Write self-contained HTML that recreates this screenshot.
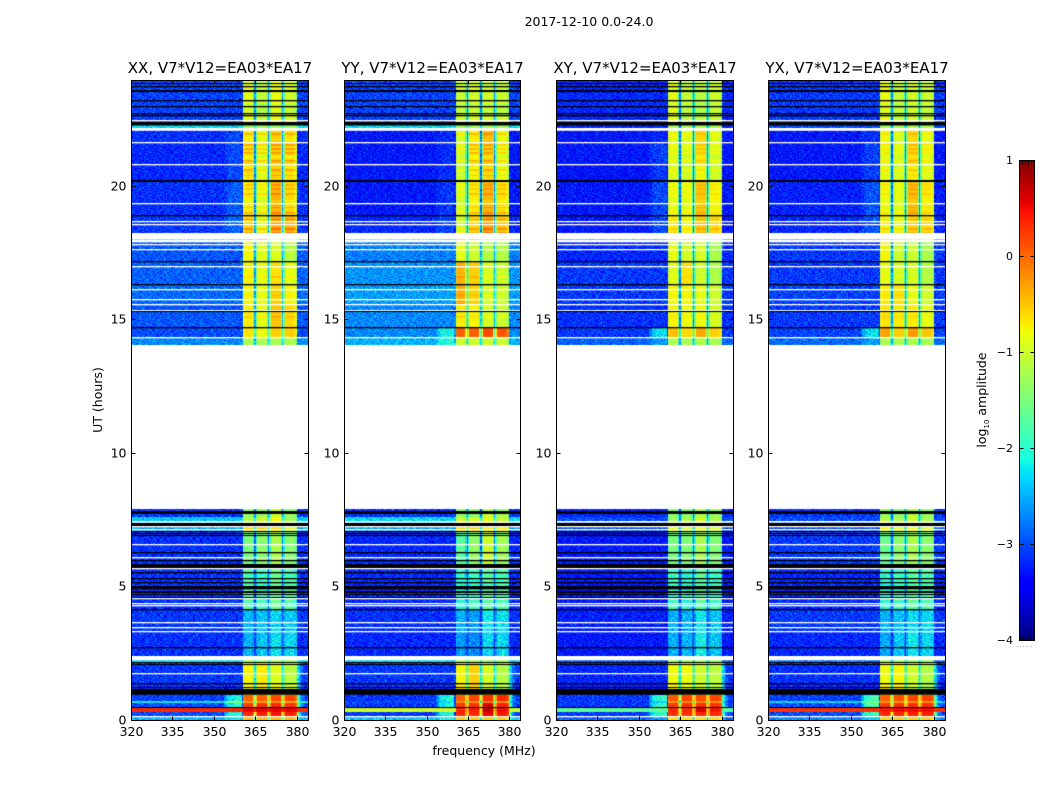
<!DOCTYPE html>
<html lang="en">
<head>
<meta charset="utf-8">
<title>2017-12-10 0.0-24.0</title>
<style>
html,body{margin:0;padding:0;background:#fff;}
#figure{position:relative;width:1050px;height:800px;overflow:hidden;background:#fff;font-family:"DejaVu Sans","Liberation Sans",sans-serif;}
canvas{position:absolute;display:block;}
#overlay{position:absolute;left:0;top:0;}
text{font-family:"DejaVu Sans","Liberation Sans",sans-serif;fill:#000;}
</style>
</head>
<body>
<div id="figure">
<canvas id="heat-xx"></canvas>
<canvas id="heat-yy"></canvas>
<canvas id="heat-xy"></canvas>
<canvas id="heat-yx"></canvas>
<canvas id="colorbar"></canvas>
<svg id="overlay" width="1050" height="800" xmlns="http://www.w3.org/2000/svg">
<text x="589" y="26" font-size="12.5" text-anchor="middle">2017-12-10 0.0-24.0</text>
<text x="484" y="755" font-size="12.5" text-anchor="middle">frequency (MHz)</text>
<text transform="translate(102,400) rotate(-90)" font-size="12.5" text-anchor="middle">UT (hours)</text>
<text transform="translate(986,400) rotate(-90)" font-size="12.5" text-anchor="middle">log<tspan font-size="7" dy="3">10</tspan><tspan dy="-3"> amplitude</tspan></text>
<text x="1017" y="647" font-size="5" fill="#666" letter-spacing="1.2">......</text>
</svg>
</div>
<script>
/* ---------- chart data (log10 amplitude) ---------- */
const panelNames = ["XX", "YY", "XY", "YX"];
const panelTitles = ["XX, V7*V12=EA03*EA17", "YY, V7*V12=EA03*EA17", "XY, V7*V12=EA03*EA17", "YX, V7*V12=EA03*EA17"];
const xTickValues = [320, 335, 350, 365, 380];
const yTickValues = [0, 5, 10, 15, 20];
const colorTickValues = [1, 0, -1, -2, -3, -4];

/* time segments in UT hours */
const segStart = [22.40,22.16,21.63,20.80,20.19,18.90,18.02,17.94,17.17,16.32,15.56,14.70,14.31,14.04,7.58,7.45,7.07,5.66,4.10,3.31,2.30,2.16,1.34,0.92,0.69,0.62,0.43,0.28,0.10,0.00];
const segEnd   = [24.00,22.40,22.16,21.63,20.80,20.19,18.90,18.02,17.94,17.17,16.32,15.56,14.70,14.31,7.89,7.58,7.45,7.07,5.66,4.10,3.31,2.30,2.16,1.34,0.92,0.69,0.62,0.43,0.28,0.10];

/* background level outside the receiver passband, per segment */
const xxBackground = [-3.05,-2.3,-3.15,-3.2,-3.2,-3.15,-3.1,-2.4,-2.95,-2.9,-2.85,-2.95,-3.0,-2.7,-3.1,-2.4,-2.6,-3.15,-3.15,-3.1,-3.15,-2.3,-3.1,-3.15,-3.05,-2.2,-3.0,0.35,-3.0,-2.5];
const yyBackground = [-3.05,-2.3,-3.3,-3.3,-3.3,-3.3,-3.2,-2.4,-2.75,-2.65,-2.6,-2.7,-2.7,-2.5,-3.1,-2.3,-2.6,-3.2,-3.2,-3.15,-3.2,-2.3,-3.1,-3.15,-3.1,-3.0,-3.1,-1.0,-3.1,-2.4];
const xyBackground = [-3.2,-3.2,-3.3,-3.3,-3.35,-3.3,-3.3,-2.9,-3.2,-3.1,-3.1,-3.15,-3.1,-2.9,-3.2,-3.0,-3.0,-3.3,-3.3,-3.25,-3.3,-2.9,-3.2,-3.25,-3.1,-3.1,-3.1,-1.7,-3.1,-2.9];
const yxBackground = [-3.1,-3.0,-3.3,-3.3,-3.3,-3.25,-3.2,-2.8,-3.1,-3.1,-3.05,-3.1,-3.05,-2.85,-3.1,-3.0,-3.0,-3.1,-3.2,-3.1,-3.2,-2.8,-3.15,-3.2,-3.05,-2.3,-3.0,0.3,-3.0,-2.7];

/* low-side shoulder strength (dex) next to the passband, per segment */
const xxShoulder = [0,0,.15,.2,.2,.25,.25,0,0,0,0,0,0,0,0,0,0,0,0,0,0,0,0,0,1.0,.8,1.0,0,1.0,.3];
const yyShoulder = [0,0,.1,.15,.15,.2,.15,0,0,0,0,0,.6,.5,0,0,0,0,0,0,0,0,0,0,1.1,.8,1.1,0,1.1,.3];
const xyShoulder = [0,0,.1,.25,.25,.3,.3,0,0,0,0,0,.9,.3,0,0,0,0,0,0,0,0,0,0,1.2,.8,1.2,0,1.2,.3];
const yxShoulder = [0,0,.15,.25,.25,.3,.25,0,0,0,0,0,.85,.3,0,0,0,0,0,0,0,0,0,0,1.3,.8,1.3,0,1.2,.3];
/* high-side shoulder strength (dex) above 380 MHz, per segment */
const upperShoulder = [0,0,0,0,0,0,0,0,0,0,0,0,0,0,0,0,0,0,0,0,0,0,.9,.9,1.4,.8,1.4,0,1.4,.3];
/* lowest level the narrow channel gaps fall to, per segment */
const gapFloor = [-9,-9,-9,-9,-9,-9,-9,-9,-9,-9,-9,-9,-2.3,-9,-9,-9,-9,-9,-9,-9,-9,-9,-2.5,-2.5,-1.5,-9,-1.5,-1.5,-1.5,-9];

/* level in each of the four 5 MHz sub-bands, per segment */
const xxSubbands = [[-.85,-1.05,-.8,-.95],[-1.3,-1.3,-1.3,-1.3],[-.7,-.85,-.55,-.65],[-.65,-.85,-.55,-.6],[-.65,-.9,-.55,-.65],[-.7,-.85,-.4,-.6],[-.55,-.85,-.35,-.4],[-.2,-.2,-.8,-.8],[-.75,-.9,-.9,-1.1],[-.75,-.85,-.65,-.85],[-.75,-.85,-.55,-.75],[-.7,-.85,-.5,-.6],[-.65,-.8,-.55,-.55],[-1.2,-1.2,-1.2,-1.2],[-1.3,-1.3,-1.0,-1.3],[-1.2,-1.0,-.8,-1.3],[-.55,-.5,-.55,-.9],[-1.5,-1.4,-1.2,-1.4],[-1.8,-1.9,-1.6,-1.8],[-2.45,-2.4,-2.3,-2.35],[-2.5,-2.4,-2.25,-2.3],[-1.3,-1.3,-1.3,-1.3],[-.75,-.7,-.9,-1.1],[-.75,-.7,-.8,-1.0],[.05,.05,.15,.2],[-.3,-.3,-.2,-.3],[.25,.3,.35,.3],[.55,.55,.55,.55],[.35,.4,.45,.4],[-.4,-.4,-.4,-.4]];
const yySubbands = [[-1.0,-.95,-.95,-1.0],[-1.3,-1.3,-1.3,-1.3],[-.95,-.7,-.45,-.8],[-1.0,-.7,-.55,-.85],[-1.05,-.75,-.6,-.85],[-.95,-.7,-.4,-.65],[-1.0,-.6,-.3,-.5],[-.3,-.3,-.7,-.7],[-.85,-1.0,-1.15,-1.15],[-.4,-.55,-.95,-1.0],[-.35,-.55,-.95,-1.0],[-.7,-.75,-.95,-1.0],[.05,.05,.15,.1],[-1.0,-1.0,-1.0,-1.0],[-1.3,-1.4,-1.0,-1.2],[-1.0,-.95,-.85,-1.05],[-.6,-.55,-.7,-.7],[-1.7,-1.35,-1.0,-1.25],[-2.0,-1.9,-1.7,-1.8],[-2.5,-2.6,-2.2,-2.25],[-2.6,-2.7,-2.3,-2.3],[-1.3,-1.3,-1.3,-1.3],[-.75,-.55,-.95,-1.15],[-.65,-.55,-.9,-1.1],[.05,.2,.3,.35],[-.2,-.2,-.1,-.2],[.25,.3,.6,.4],[.35,.4,.7,.5],[.35,.35,.55,.45],[-.5,-.5,-.5,-.5]];
const xySubbands = [[-.85,-1.05,-1.1,-1.0],[-1.2,-1.2,-1.2,-1.2],[-.85,-.9,-.6,-.9],[-.9,-.95,-.65,-.95],[-.9,-1.0,-.8,-1.0],[-.85,-.85,-.5,-.75],[-.7,-.8,-.5,-.6],[-.4,-.4,-.8,-.9],[-.85,-.95,-.95,-1.2],[-.9,-.65,-1.0,-1.2],[-.75,-.75,-.85,-1.0],[-.75,-.8,-.8,-.95],[-.45,-.6,-.35,-.55],[-1.2,-1.2,-1.2,-1.2],[-1.4,-1.4,-1.1,-1.3],[-1.3,-1.2,-1.0,-1.2],[-.85,-1.0,-.85,-.95],[-1.5,-1.45,-1.2,-1.45],[-1.9,-2.0,-1.7,-1.9],[-2.5,-2.5,-2.2,-2.4],[-2.5,-2.5,-2.15,-2.4],[-1.3,-1.3,-1.3,-1.3],[-.8,-.8,-1.0,-1.1],[-.7,-.8,-.95,-1.1],[.1,.2,.15,.2],[-.2,-.2,-.2,-.2],[.25,.3,.3,.3],[.35,.35,.6,.45],[.3,.3,.35,.35],[-.6,-.6,-.6,-.6]];
const yxSubbands = [[-.8,-1.05,-.95,-1.0],[-1.2,-1.2,-1.2,-1.2],[-.8,-.95,-.6,-.85],[-.85,-.95,-.6,-.85],[-.85,-.95,-.7,-.9],[-.8,-.9,-.45,-.7],[-.75,-.85,-.55,-.6],[-.5,-.5,-.8,-.9],[-.75,-1.0,-1.0,-1.2],[-.85,-.95,-.95,-1.15],[-.7,-.65,-.85,-1.0],[-.65,-.7,-.7,-.85],[-.3,-.55,-.25,-.5],[-1.2,-1.2,-1.2,-1.2],[-1.3,-1.4,-1.1,-1.3],[-1.1,-1.2,-1.0,-1.2],[-.8,-.9,-.8,-.9],[-1.6,-1.4,-1.2,-1.4],[-2.0,-1.9,-1.7,-1.8],[-2.5,-2.4,-2.25,-2.3],[-2.55,-2.4,-2.2,-2.3],[-1.3,-1.3,-1.3,-1.3],[-.8,-.75,-1.0,-1.15],[-.7,-.7,-1.0,-1.15],[.05,.15,.2,.2],[-.2,-.2,-.2,-.2],[.25,.3,.3,.3],[.45,.5,.5,.5],[.35,.35,.4,.4],[-.5,-.5,-.5,-.5]];

/* passband response per 0.5 MHz channel, 320 to 384 MHz */
const passband = [
0,0,0,0,0,0,0,0,0,0,0,0,0,0,0,0,0,0,0,0,0,0,0,0,0,0,0,0,0,0,0,0,0,0,0,0,0,0,0,0,
0,0,0,0,0,0,0,0,0,0,0,0,0,0,0,0,0,0,0,0,0,0,0,0,0,0,0,0,0,0,0,0,0,0,0,0,0,0,0,0,0,
0,.95,1,1,1,1,1,1,.65,.2,.65,1,1,1,1,1,1,1,.65,.2,.65,1,1,1,1,1,1,1,.65,.2,.65,1,1,1,1,1,1,1,.95,.85,
0,0,0,0,0,0,0,0];
const shoulderShape = [
0,0,0,0,0,0,0,0,0,0,0,0,0,0,0,0,0,0,0,0,0,0,0,0,0,0,0,0,0,0,0,0,0,0,0,0,0,0,0,0,
0,0,0,0,0,0,0,0,0,0,0,0,0,0,0,0,0,0,0,0,
0,0,0,0,0,0,0,0,.3,.5,.7,.8,.85,.9,.9,.9,.95,.95,1,1,1,
0,0,0,0,0,0,0,0,0,0,0,0,0,0,0,0,0,0,0,0,0,0,0,0,0,0,0,0,0,0,0,0,0,0,0,0,0,0,0,0,
0,0,0,0,0,0,0,0];
const upperShape = [
0,0,0,0,0,0,0,0,0,0,0,0,0,0,0,0,0,0,0,0,0,0,0,0,0,0,0,0,0,0,0,0,0,0,0,0,0,0,0,0,
0,0,0,0,0,0,0,0,0,0,0,0,0,0,0,0,0,0,0,0,0,0,0,0,0,0,0,0,0,0,0,0,0,0,0,0,0,0,0,0,0,
0,0,0,0,0,0,0,0,0,0,0,0,0,0,0,0,0,0,0,0,0,0,0,0,0,0,0,0,0,0,0,0,0,0,0,0,0,0,0,0,
1,.7,.4,.2,.1,.05,0,0];
const subbandEdges = [365, 370, 375];

/* brighter or dimmer spectral rows inside the passband */
const stripeHours = [23.4,23.05,22.85,21.95,21.75,21.55,21.4,21.25,21.1,20.95,20.7,20.6,20.4,20.05,19.9,19.7,19.45,19.2,19.0,18.75,18.4,18.25,17.0,16.6,15.9,15.1];
const stripeGains = [-.2,-.2,-.2,.3,-.1,.3,.3,.3,-.15,.3,-.1,.3,.25,.2,.2,.25,-.15,.2,.3,.35,.35,.3,.15,.15,.15,.15];
const stripeStrength = [1, .9, .5, .6];

/* flagged rows across all panels: centre hour, thickness in hours, kind */
const flagHours = [23.84,23.73,23.59,23.53,23.19,22.98,22.73,22.65,22.46,22.35,22.11,21.63,20.80,20.19,19.34,18.90,18.67,18.56,18.12,17.92,17.79,17.62,17.17,16.99,16.32,16.12,15.75,15.56,15.34,15.28,14.70,14.31,7.76,7.41,7.31,7.23,7.12,7.03,6.96,6.90,6.57,6.27,6.08,5.94,5.75,5.66,5.50,5.29,5.13,4.94,4.79,4.67,4.57,4.53,4.34,4.28,4.10,3.64,3.44,3.31,2.68,2.30,2.12,2.06,1.73,1.34,1.18,1.03,0.46,0.10];
const flagWidths = [.04,.05,.04,.04,.05,.05,.05,.05,.05,.13,.105,.05,.05,.075,.05,.05,.05,.05,.245,.09,.05,.05,.05,.05,.05,.05,.05,.05,.05,.04,.05,.05,.11,.065,.125,.05,.05,.04,.04,.04,.05,.05,.05,.05,.15,.05,.05,.05,.05,.125,.075,.04,.04,.05,.05,.05,.05,.05,.05,.05,.05,.16,.04,.04,.05,.05,.04,.215,.04,.05];
const flagKinds = "kkkkkkkkwkwwwkwkwwwwwwkwkwwwwkkwkwkwwkkkwkwkkwkkkkkkkwwwkwwwkwkkwkkkkw";

/* hand-typed texture approximating the noisy background; not measured from the picture */
const speckleTile = [
"3718264905172638490527163849201",
"8240596137482950163748205916374",
"1596372840619375208461937025846",
"6027481953720486139572084613952",
"4381905276138409527316840295731",
"9152764038295617340892561704382",
"2670813945062738415906273184590",
"7394026581947302681549307268415",
"0861537294615820937462518093746",
"5243980617358146209783640521879",
"1709264853012947568302917465083",
"8536172490786315042968153027694",
"3092845716240968351740286935170",
"6471390528917350264185093762841",
"2958607143586291730426815094367",
"7120439865031758942603174958206",
"4685921037469102587349260815739",
"0317758246193864025871496302518",
"9546102873520417396058742169340"
];

/* ---------- layout ---------- */
const panelLeft = [131, 344, 556, 768];
const panelRight = [308, 520, 733, 945];
const plotTop = 80;
const plotBottom = 720;
const zeroRow = 719.5;
const pixelsPerHour = 26.67;
const freqMin = 320;
const freqMax = 384;
const channelStep = 0.5;
const backgrounds = [xxBackground, yyBackground, xyBackground, yxBackground];
const shoulders = [xxShoulder, yyShoulder, xyShoulder, yxShoulder];
const subbands = [xxSubbands, yySubbands, xySubbands, yxSubbands];
const SVGNS = "http://www.w3.org/2000/svg";

function xScale(freq, panel) {
  return panelLeft[panel] + (freq - freqMin) / (freqMax - freqMin) * (panelRight[panel] - panelLeft[panel]);
}
function yScale(hour) {
  return zeroRow - hour * pixelsPerHour;
}
function hourAt(row) {
  return (zeroRow - row) / pixelsPerHour;
}
function ramp(x, pts) {
  for (let i = 1; i < pts.length; i++) {
    if (x <= pts[i][0]) {
      const a = pts[i - 1], b = pts[i];
      return a[1] + (b[1] - a[1]) * (x - a[0]) / (b[0] - a[0]);
    }
  }
  return pts[pts.length - 1][1];
}
function jet(value) {
  const t = Math.max(0, Math.min(1, (value + 4) / 5));
  const r = ramp(t, [[0,0],[.35,0],[.66,1],[.89,1],[1,.5]]);
  const g = ramp(t, [[0,0],[.125,0],[.375,1],[.64,1],[.91,0],[1,0]]);
  const b = ramp(t, [[0,.5],[.11,1],[.34,1],[.65,0],[1,0]]);
  return "rgb(" + Math.round(r * 255) + "," + Math.round(g * 255) + "," + Math.round(b * 255) + ")";
}
function segmentAt(hour) {
  for (let i = 0; i < segStart.length; i++) {
    if (hour >= segStart[i] && hour < segEnd[i]) return i;
  }
  return -1;
}
function stripeAt(hour) {
  for (let i = 0; i < stripeHours.length; i++) {
    if (Math.abs(hour - stripeHours[i]) < 0.03) return stripeGains[i];
  }
  return 0;
}
function subbandAt(freq) {
  let k = 0;
  while (k < subbandEdges.length && freq > subbandEdges[k]) k++;
  return k;
}
function speckle(row, col, panel) {
  const line = speckleTile[(row + panel * 7) % speckleTile.length];
  return (Number(line[(col + panel * 11 + (row >> 2) * 3) % line.length]) - 4.5) / 4.5;
}
function cellValue(panel, seg, ch, freq, stripe) {
  const base = backgrounds[panel][seg] + shoulders[panel][seg] * shoulderShape[ch] + upperShoulder[seg] * upperShape[ch];
  if (passband[ch] === 0) return base;
  const floorLevel = Math.max(base, gapFloor[seg]);
  const level = subbands[panel][seg][subbandAt(freq)];
  return floorLevel + (level + stripe * stripeStrength[panel] - floorLevel) * passband[ch];
}
function drawHeatmap(panel, id) {
  const cv = document.getElementById(id);
  const left = Math.round(panelLeft[panel]);
  const width = Math.round(panelRight[panel]) - left;
  const height = plotBottom - plotTop;
  cv.width = width;
  cv.height = height;
  cv.style.left = left + "px";
  cv.style.top = plotTop + "px";
  const ctx = cv.getContext("2d");
  for (let r = 0; r < height; r++) {
    const hour = hourAt(plotTop + r + 0.5);
    const seg = segmentAt(hour);
    if (seg < 0) continue;
    const stripe = stripeAt(hour);
    for (let ch = 0; ch < passband.length; ch++) {
      const freq = freqMin + ch * channelStep;
      let v = cellValue(panel, seg, ch, freq, stripe);
      const amp = v < -1.6 ? 0.32 : (v < -1 ? 0.14 : 0.04);
      v += speckle(r, ch, panel) * amp;
      const x0 = Math.floor(xScale(freq - channelStep / 2, panel)) - left;
      const x1 = Math.floor(xScale(freq + channelStep / 2, panel)) - left;
      ctx.fillStyle = jet(v);
      ctx.fillRect(x0, r, Math.max(1, x1 - x0), 1);
    }
  }
  for (let i = 0; i < flagHours.length; i++) {
    const top = Math.round(yScale(flagHours[i] + flagWidths[i] / 2)) - plotTop;
    ctx.fillStyle = flagKinds[i] === "w" ? "#ffffff" : "#000000";
    ctx.fillRect(0, top, width, flagWidths[i] * pixelsPerHour);
  }
}
function drawColorbar() {
  const cv = document.getElementById("colorbar");
  const top = 160, h = 480, left = 1019, w = 15;
  cv.width = w;
  cv.height = h;
  cv.style.left = left + "px";
  cv.style.top = top + "px";
  const ctx = cv.getContext("2d");
  for (let r = 0; r < h; r++) {
    ctx.fillStyle = jet(1 - (r + 0.5) / h * 5);
    ctx.fillRect(0, r, w, 1);
  }
}
function svgLine(parent, x1, y1, x2, y2) {
  const el = document.createElementNS(SVGNS, "line");
  el.setAttribute("x1", x1);
  el.setAttribute("y1", y1);
  el.setAttribute("x2", x2);
  el.setAttribute("y2", y2);
  el.setAttribute("stroke", "#000");
  el.setAttribute("stroke-width", "1");
  parent.appendChild(el);
  return el;
}
function svgText(parent, x, y, str, size, anchor) {
  const el = document.createElementNS(SVGNS, "text");
  el.setAttribute("x", x);
  el.setAttribute("y", y);
  el.setAttribute("font-size", size);
  el.setAttribute("text-anchor", anchor);
  el.textContent = str;
  parent.appendChild(el);
  return el;
}
function drawAxes(panel) {
  const svg = document.getElementById("overlay");
  const L = Math.round(panelLeft[panel]) + 0.5;
  const R = Math.round(panelRight[panel]) + 0.5;
  const T = plotTop + 0.5;
  const B = plotBottom + 0.5;
  const group = document.createElementNS(SVGNS, "g");
  
  
  svg.appendChild(group);

  const frame = document.createElementNS(SVGNS, "rect");
  frame.setAttribute("x", L);
  frame.setAttribute("y", T);
  frame.setAttribute("width", R - L);
  frame.setAttribute("height", B - T);
  frame.setAttribute("fill", "none");
  frame.setAttribute("stroke", "#000");
  frame.setAttribute("stroke-width", "1");
  
  
  group.appendChild(frame);

  const title = svgText(group, (L + R) / 2, 73, panelTitles[panel], 15, "middle");
  
  

  xTickValues.forEach(function (f) {
    const x = Math.round(xScale(f, panel)) + 0.5;
    const tickB = svgLine(group, x, B, x, B - 4);
    
    
    const tickT = svgLine(group, x, T, x, T + 4);
    
    
    const label = svgText(group, x, 736, String(f), 12.5, "middle");
    
    
  });
  yTickValues.forEach(function (h) {
    const y = Math.round(yScale(h)) + 0.5;
    const tickL = svgLine(group, L, y, L + 4, y);
    
    
    const tickR = svgLine(group, R, y, R - 4, y);
    
    
    const label = svgText(group, L - 5, y + 4, String(h), 12.5, "end");
    
    
  });
}
function drawColorbarAxis() {
  const svg = document.getElementById("overlay");
  const group = document.createElementNS(SVGNS, "g");
  
  
  svg.appendChild(group);
  const L = 1019.5, R = 1034.5, T = 160.5, B = 640.5;
  const frame = document.createElementNS(SVGNS, "rect");
  frame.setAttribute("x", L);
  frame.setAttribute("y", T);
  frame.setAttribute("width", R - L);
  frame.setAttribute("height", B - T);
  frame.setAttribute("fill", "none");
  frame.setAttribute("stroke", "#000");
  
  
  group.appendChild(frame);
  colorTickValues.forEach(function (v) {
    const y = Math.round(160 + (1 - v) / 5 * 480) + 0.5;
    const a = svgLine(group, L, y, L + 4, y);
    
    
    const b = svgLine(group, R, y, R - 4, y);
    
    
    const txt = (v < 0 ? "\u2212" + (-v) : String(v));
    const label = svgText(group, 1013, y + 3.5, txt, 11, "end");
    
    
  });
  for (let x = 1022.5; x < 1033; x += 3) {
    const a = svgLine(group, x, T, x, T + 4);
    
    
    const b = svgLine(group, x, B, x, B - 4);
    
    
  }
}
drawHeatmap(0, "heat-xx");
drawHeatmap(1, "heat-yy");
drawHeatmap(2, "heat-xy");
drawHeatmap(3, "heat-yx");
drawColorbar();
panelNames.forEach(function (n, i) { drawAxes(i); });
drawColorbarAxis();
</script>
</body>
</html>
